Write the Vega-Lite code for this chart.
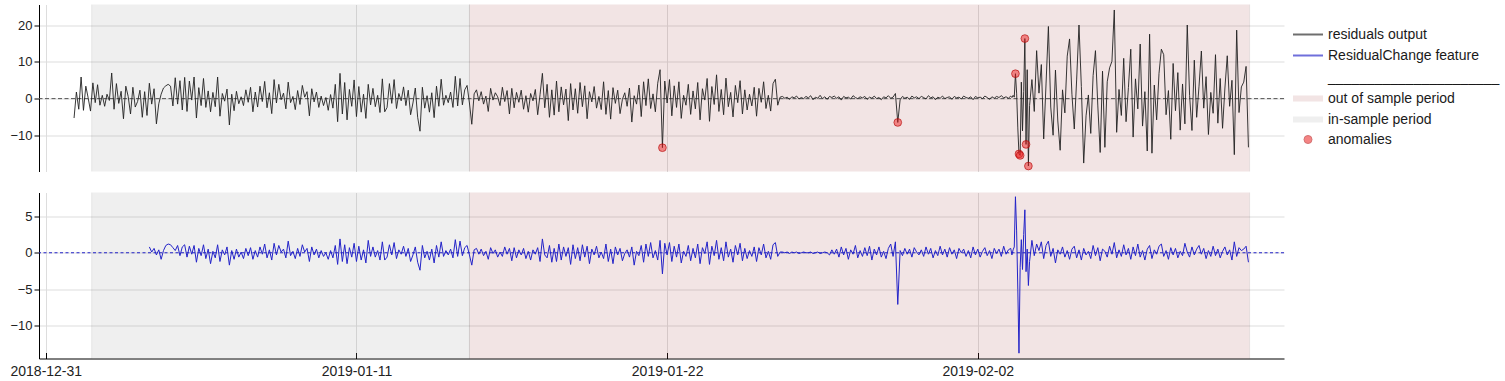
{
  "$schema": "https://vega.github.io/schema/vega-lite/v6.json",
  "padding": {"left": 9, "top": 3.5, "right": 0, "bottom": 5},
  "background": "white",
  "config": {
    "font": "Liberation Sans",
    "view": {"stroke": null},
    "axis": {"labelFont": "Liberation Sans", "labelColor": "#222222", "gridColor": "#dddddd", "gridWidth": 1, "domainColor": "#000000", "tickColor": "#000000", "domainWidth": 1, "tickWidth": 1},
    "legend": {"labelFont": "Liberation Sans", "labelFontSize": 14, "labelColor": "#1a1a1a", "labelLimit": 300, "padding": 0, "rowPadding": 7, "labelOffset": 13}
  },
  "datasets": {
    "periods": [
      {"start": "2019-01-01T15:00", "end": "2019-01-15T00:00", "period": "in-sample period"},
      {"start": "2019-01-15T00:00", "end": "2019-02-11T15:00", "period": "out of sample period"}
    ],
    "anom": [
      {"t": "2019-01-21T20:00", "r": -13.4},
      {"t": "2019-01-30T04:00", "r": -6.5},
      {"t": "2019-02-03T08:00", "r": 6.8},
      {"t": "2019-02-03T11:00", "r": -15.1},
      {"t": "2019-02-03T12:00", "r": -15.5},
      {"t": "2019-02-03T16:00", "r": 16.4},
      {"t": "2019-02-03T17:00", "r": -12.5},
      {"t": "2019-02-03T19:00", "r": -18.4}
    ],
    "main": [
{"t":"2019-01-01T00:00","r":-5.3},{"t":"2019-01-01T02:00","r":1.8},{"t":"2019-01-01T04:00","r":-2.9},{"t":"2019-01-01T06:00","r":5.9},{"t":"2019-01-01T08:00","r":-3.2},{"t":"2019-01-01T10:00","r":3.4},{"t":"2019-01-01T12:00","r":0.2},{"t":"2019-01-01T14:00","r":-3.4},{"t":"2019-01-01T16:00","r":4.3},{"t":"2019-01-01T18:00","r":-1.1},{"t":"2019-01-01T20:00","r":3.8},{"t":"2019-01-01T22:00","r":-1.8},
{"t":"2019-01-02T00:00","r":0.9},{"t":"2019-01-02T02:00","r":-2.1},{"t":"2019-01-02T04:00","r":1.2},{"t":"2019-01-02T06:00","r":-0.5},{"t":"2019-01-02T08:00","r":7.0},{"t":"2019-01-02T10:00","r":-2.9},{"t":"2019-01-02T12:00","r":4.1},{"t":"2019-01-02T14:00","r":-1.3},{"t":"2019-01-02T16:00","r":2.0},{"t":"2019-01-02T18:00","r":-5.5},{"t":"2019-01-02T20:00","r":3.4},{"t":"2019-01-02T22:00","r":0.6},
{"t":"2019-01-03T00:00","r":-4.2},{"t":"2019-01-03T02:00","r":3.1},{"t":"2019-01-03T04:00","r":-2.3},{"t":"2019-01-03T06:00","r":-0.8},{"t":"2019-01-03T08:00","r":2.3},{"t":"2019-01-03T10:00","r":-5.1},{"t":"2019-01-03T12:00","r":1.9},{"t":"2019-01-03T14:00","r":-4.6},{"t":"2019-01-03T16:00","r":4.2,"c":0.8},{"t":"2019-01-03T18:00","r":-1.5,"c":0.1},{"t":"2019-01-03T20:00","r":2.7,"c":0.6},{"t":"2019-01-03T22:00","r":-6.9,"c":-0.3},
{"t":"2019-01-04T00:00","r":-1.4,"c":0.4},{"t":"2019-01-04T02:00","r":1.2,"c":-0.9},{"t":"2019-01-04T04:00","r":2.9,"c":0.3},{"t":"2019-01-04T06:00","r":3.5,"c":1.0},{"t":"2019-01-04T08:00","r":3.9,"c":1.2},{"t":"2019-01-04T10:00","r":3.4,"c":1.1},{"t":"2019-01-04T12:00","r":-2.0,"c":0.7},{"t":"2019-01-04T14:00","r":5.7,"c":0.3},{"t":"2019-01-04T16:00","r":-1.5,"c":1.0},{"t":"2019-01-04T18:00","r":4.9,"c":-0.4},{"t":"2019-01-04T20:00","r":-3.1,"c":0.8},{"t":"2019-01-04T22:00","r":5.8,"c":1.1},
{"t":"2019-01-05T00:00","r":-3.5,"c":-0.6},{"t":"2019-01-05T02:00","r":4.8,"c":0.9},{"t":"2019-01-05T04:00","r":-0.4,"c":-0.2},{"t":"2019-01-05T06:00","r":5.9,"c":1.0},{"t":"2019-01-05T08:00","r":-5.3,"c":-1.3},{"t":"2019-01-05T10:00","r":3.0,"c":0.6},{"t":"2019-01-05T12:00","r":-1.9,"c":-0.4},{"t":"2019-01-05T14:00","r":5.5,"c":1.1},{"t":"2019-01-05T16:00","r":-2.4,"c":-0.8},{"t":"2019-01-05T18:00","r":2.1,"c":0.5},{"t":"2019-01-05T20:00","r":-3.6,"c":-1.5},{"t":"2019-01-05T22:00","r":1.7,"c":0.2},
{"t":"2019-01-06T00:00","r":-2.2,"c":-0.7},{"t":"2019-01-06T02:00","r":5.9,"c":1.1},{"t":"2019-01-06T04:00","r":-4.8,"c":-1.2},{"t":"2019-01-06T06:00","r":1.4,"c":0.4},{"t":"2019-01-06T08:00","r":-0.7,"c":-0.3},{"t":"2019-01-06T10:00","r":2.6,"c":0.8},{"t":"2019-01-06T12:00","r":-7.2,"c":-1.7},{"t":"2019-01-06T14:00","r":1.2,"c":0.3},{"t":"2019-01-06T16:00","r":-3.3,"c":-0.9},{"t":"2019-01-06T18:00","r":2.0,"c":0.5},{"t":"2019-01-06T20:00","r":-1.4,"c":-0.6},{"t":"2019-01-06T22:00","r":0.5,"c":0.1},
{"t":"2019-01-07T00:00","r":-1.9,"c":-0.8},{"t":"2019-01-07T02:00","r":2.4,"c":0.6},{"t":"2019-01-07T04:00","r":-1.0,"c":-0.4},{"t":"2019-01-07T06:00","r":3.1,"c":0.7},{"t":"2019-01-07T08:00","r":-3.6,"c":-0.9},{"t":"2019-01-07T10:00","r":1.8,"c":0.3},{"t":"2019-01-07T12:00","r":-2.3,"c":-0.6},{"t":"2019-01-07T14:00","r":3.4,"c":0.8},{"t":"2019-01-07T16:00","r":-0.8,"c":-0.2},{"t":"2019-01-07T18:00","r":4.7,"c":1.2},{"t":"2019-01-07T20:00","r":-2.5,"c":-0.7},{"t":"2019-01-07T22:00","r":1.6,"c":0.4},
{"t":"2019-01-08T00:00","r":-4.1,"c":-1.0},{"t":"2019-01-08T02:00","r":5.2,"c":1.3},{"t":"2019-01-08T04:00","r":-1.2,"c":-0.3},{"t":"2019-01-08T06:00","r":3.9,"c":1.0},{"t":"2019-01-08T08:00","r":-0.3,"c":0.1},{"t":"2019-01-08T10:00","r":1.5,"c":0.5},{"t":"2019-01-08T12:00","r":-2.8,"c":-0.7},{"t":"2019-01-08T14:00","r":4.5,"c":1.6},{"t":"2019-01-08T16:00","r":-1.1,"c":-0.4},{"t":"2019-01-08T18:00","r":0.6,"c":0.2},{"t":"2019-01-08T20:00","r":-3.0,"c":-0.8},{"t":"2019-01-08T22:00","r":2.2,"c":0.6},
{"t":"2019-01-09T00:00","r":-1.6,"c":-0.5},{"t":"2019-01-09T02:00","r":3.6,"c":1.1},{"t":"2019-01-09T04:00","r":0.4,"c":0.1},{"t":"2019-01-09T06:00","r":1.9,"c":0.6},{"t":"2019-01-09T08:00","r":-4.7,"c":-1.2},{"t":"2019-01-09T10:00","r":2.7,"c":0.8},{"t":"2019-01-09T12:00","r":-0.9,"c":-0.3},{"t":"2019-01-09T14:00","r":1.8,"c":0.5},{"t":"2019-01-09T16:00","r":-2.4,"c":-0.7},{"t":"2019-01-09T18:00","r":0.7,"c":0.3},{"t":"2019-01-09T20:00","r":-1.9,"c":-0.5},{"t":"2019-01-09T22:00","r":0.3,"c":0.0},
{"t":"2019-01-10T00:00","r":-3.2,"c":-0.9},{"t":"2019-01-10T02:00","r":1.1,"c":0.3},{"t":"2019-01-10T04:00","r":-2.6,"c":-0.7},{"t":"2019-01-10T06:00","r":3.9,"c":1.0},{"t":"2019-01-10T08:00","r":-6.3,"c":-1.6},{"t":"2019-01-10T10:00","r":6.9,"c":1.9},{"t":"2019-01-10T12:00","r":-4.2,"c":-1.2},{"t":"2019-01-10T14:00","r":4.4,"c":1.1},{"t":"2019-01-10T16:00","r":-5.8,"c":-1.5},{"t":"2019-01-10T18:00","r":2.5,"c":0.7},{"t":"2019-01-10T20:00","r":-2.1,"c":-0.6},{"t":"2019-01-10T22:00","r":5.1,"c":1.3},
{"t":"2019-01-11T00:00","r":-4.9,"c":-1.2},{"t":"2019-01-11T02:00","r":3.3,"c":0.9},{"t":"2019-01-11T04:00","r":-3.7,"c":-1.0},{"t":"2019-01-11T06:00","r":1.2,"c":0.4},{"t":"2019-01-11T08:00","r":-5.4,"c":-1.4},{"t":"2019-01-11T10:00","r":3.9,"c":1.7},{"t":"2019-01-11T12:00","r":-1.7,"c":-0.5},{"t":"2019-01-11T14:00","r":2.8,"c":0.8},{"t":"2019-01-11T16:00","r":-2.2,"c":-0.6},{"t":"2019-01-11T18:00","r":0.9,"c":0.3},{"t":"2019-01-11T20:00","r":-3.8,"c":-1.0},{"t":"2019-01-11T22:00","r":5.4,"c":1.5},
{"t":"2019-01-12T00:00","r":-3.6,"c":-1.0},{"t":"2019-01-12T02:00","r":-2.4,"c":-0.6},{"t":"2019-01-12T04:00","r":4.1,"c":1.1},{"t":"2019-01-12T06:00","r":-1.3,"c":-0.3},{"t":"2019-01-12T08:00","r":5.2,"c":1.4},{"t":"2019-01-12T10:00","r":-2.7,"c":-0.8},{"t":"2019-01-12T12:00","r":1.4,"c":0.4},{"t":"2019-01-12T14:00","r":-0.6,"c":-0.2},{"t":"2019-01-12T16:00","r":3.2,"c":0.9},{"t":"2019-01-12T18:00","r":-1.9,"c":-0.5},{"t":"2019-01-12T20:00","r":2.3,"c":0.6},{"t":"2019-01-12T22:00","r":-4.4,"c":-1.2},
{"t":"2019-01-13T00:00","r":-1.2,"c":-0.3},{"t":"2019-01-13T02:00","r":2.9,"c":0.8},{"t":"2019-01-13T04:00","r":-5.1,"c":-1.3},{"t":"2019-01-13T06:00","r":-8.9,"c":-2.4},{"t":"2019-01-13T08:00","r":3.1,"c":1.0},{"t":"2019-01-13T10:00","r":-2.6,"c":-0.7},{"t":"2019-01-13T12:00","r":0.8,"c":0.2},{"t":"2019-01-13T14:00","r":-3.7,"c":-1.0},{"t":"2019-01-13T16:00","r":1.6,"c":0.5},{"t":"2019-01-13T18:00","r":-5.2,"c":-1.4},{"t":"2019-01-13T20:00","r":3.4,"c":1.0},{"t":"2019-01-13T22:00","r":-2.1,"c":-0.6},
{"t":"2019-01-14T00:00","r":5.3,"c":1.5},{"t":"2019-01-14T02:00","r":-1.8,"c":-0.5},{"t":"2019-01-14T04:00","r":0.9,"c":0.3},{"t":"2019-01-14T06:00","r":-1.1,"c":-0.3},{"t":"2019-01-14T08:00","r":1.8,"c":0.5},{"t":"2019-01-14T10:00","r":-2.4,"c":-0.7},{"t":"2019-01-14T12:00","r":6.1,"c":1.8},{"t":"2019-01-14T14:00","r":-2.0,"c":-0.5},{"t":"2019-01-14T16:00","r":5.5,"c":1.6},{"t":"2019-01-14T18:00","r":-1.7,"c":-0.4},{"t":"2019-01-14T20:00","r":2.4,"c":0.7},{"t":"2019-01-14T22:00","r":3.6,"c":1.0},
{"t":"2019-01-15T00:00","r":-1.2,"c":-0.3},{"t":"2019-01-15T02:00","r":-7.0,"c":-1.7},{"t":"2019-01-15T04:00","r":1.3,"c":0.4},{"t":"2019-01-15T06:00","r":2.4,"c":0.6},{"t":"2019-01-15T08:00","r":-0.6,"c":-0.2},{"t":"2019-01-15T10:00","r":1.9,"c":0.5},{"t":"2019-01-15T12:00","r":-1.5,"c":-0.4},{"t":"2019-01-15T14:00","r":0.7,"c":0.2},{"t":"2019-01-15T16:00","r":-3.5,"c":-0.9},{"t":"2019-01-15T18:00","r":2.8,"c":0.7},{"t":"2019-01-15T20:00","r":-0.4,"c":-0.1},{"t":"2019-01-15T22:00","r":1.6,"c":0.4},
{"t":"2019-01-16T00:00","r":0.5,"c":-0.6},{"t":"2019-01-16T02:00","r":-1.9,"c":0.1},{"t":"2019-01-16T04:00","r":3.1,"c":-0.5},{"t":"2019-01-16T06:00","r":-0.8,"c":0.8},{"t":"2019-01-16T08:00","r":2.2,"c":-0.2},{"t":"2019-01-16T10:00","r":-4.2,"c":0.6},{"t":"2019-01-16T12:00","r":2.8,"c":-1.1},{"t":"2019-01-16T14:00","r":-2.5,"c":0.7},{"t":"2019-01-16T16:00","r":1.7,"c":-0.7},{"t":"2019-01-16T18:00","r":-1.0,"c":0.4},{"t":"2019-01-16T20:00","r":2.3,"c":-0.3},{"t":"2019-01-16T22:00","r":-2.9,"c":0.6},
{"t":"2019-01-17T00:00","r":0.8,"c":-0.8},{"t":"2019-01-17T02:00","r":-3.7,"c":0.2},{"t":"2019-01-17T04:00","r":1.4,"c":-1.0},{"t":"2019-01-17T06:00","r":-0.6,"c":0.4},{"t":"2019-01-17T08:00","r":2.5,"c":-0.2},{"t":"2019-01-17T10:00","r":-4.4,"c":0.7},{"t":"2019-01-17T12:00","r":1.1,"c":-1.2},{"t":"2019-01-17T14:00","r":6.9,"c":1.9},{"t":"2019-01-17T16:00","r":-2.5,"c":-0.3},{"t":"2019-01-17T18:00","r":3.9,"c":-0.7},{"t":"2019-01-17T20:00","r":-5.1,"c":1.0},{"t":"2019-01-17T22:00","r":2.4,"c":-1.3},
{"t":"2019-01-18T00:00","r":-4.5,"c":0.6},{"t":"2019-01-18T02:00","r":4.8,"c":-1.2},{"t":"2019-01-18T04:00","r":-3.6,"c":1.2},{"t":"2019-01-18T06:00","r":3.2,"c":-1.0},{"t":"2019-01-18T08:00","r":-1.7,"c":0.8},{"t":"2019-01-18T10:00","r":2.6,"c":-0.5},{"t":"2019-01-18T12:00","r":-6.0,"c":0.7},{"t":"2019-01-18T14:00","r":4.1,"c":-1.6},{"t":"2019-01-18T16:00","r":-3.1,"c":1.1},{"t":"2019-01-18T18:00","r":2.7,"c":-0.8},{"t":"2019-01-18T20:00","r":-4.0,"c":0.7},{"t":"2019-01-18T22:00","r":4.4,"c":-1.1},
{"t":"2019-01-19T00:00","r":-2.2,"c":1.1},{"t":"2019-01-19T02:00","r":3.5,"c":-0.6},{"t":"2019-01-19T04:00","r":-5.5,"c":0.9},{"t":"2019-01-19T06:00","r":1.9,"c":-1.5},{"t":"2019-01-19T08:00","r":-0.9,"c":0.5},{"t":"2019-01-19T10:00","r":3.3,"c":-0.3},{"t":"2019-01-19T12:00","r":-2.6,"c":0.9},{"t":"2019-01-19T14:00","r":0.6,"c":-0.7},{"t":"2019-01-19T16:00","r":-3.0,"c":0.1},{"t":"2019-01-19T18:00","r":4.6,"c":-0.8},{"t":"2019-01-19T20:00","r":-4.3,"c":1.2},{"t":"2019-01-19T22:00","r":2.2,"c":-1.2},
{"t":"2019-01-20T00:00","r":-5.6,"c":0.5},{"t":"2019-01-20T02:00","r":3.0,"c":-1.5},{"t":"2019-01-20T04:00","r":-1.3,"c":0.8},{"t":"2019-01-20T06:00","r":2.3,"c":-0.3},{"t":"2019-01-20T08:00","r":-4.1,"c":0.6},{"t":"2019-01-20T10:00","r":-0.2,"c":-1.1},{"t":"2019-01-20T12:00","r":1.6,"c":-0.1},{"t":"2019-01-20T14:00","r":-2.1,"c":0.4},{"t":"2019-01-20T16:00","r":2.9,"c":-0.6},{"t":"2019-01-20T18:00","r":-6.4,"c":0.8},{"t":"2019-01-20T20:00","r":0.8,"c":-1.7},{"t":"2019-01-20T22:00","r":-1.5,"c":0.2},
{"t":"2019-01-21T00:00","r":3.7,"c":-0.4},{"t":"2019-01-21T02:00","r":-4.9,"c":1.0},{"t":"2019-01-21T04:00","r":4.6,"c":-1.3},{"t":"2019-01-21T06:00","r":-1.9,"c":1.2},{"t":"2019-01-21T08:00","r":5.4,"c":-0.5},{"t":"2019-01-21T10:00","r":-2.7,"c":1.4},{"t":"2019-01-21T12:00","r":1.3,"c":-0.7},{"t":"2019-01-21T14:00","r":-3.6,"c":0.3},{"t":"2019-01-21T16:00","r":4.2,"c":-1.0},{"t":"2019-01-21T18:00","r":7.9,"c":1.7},{"t":"2019-01-21T20:00","r":-13.4,"c":-2.9},{"t":"2019-01-21T22:00","r":4.8,"c":1.3},
{"t":"2019-01-22T00:00","r":-1.2,"c":-0.3},{"t":"2019-01-22T02:00","r":5.2,"c":1.4},{"t":"2019-01-22T04:00","r":-4.7,"c":-1.2},{"t":"2019-01-22T06:00","r":3.5,"c":0.9},{"t":"2019-01-22T08:00","r":-2.4,"c":-0.6},{"t":"2019-01-22T10:00","r":4.6,"c":1.2},{"t":"2019-01-22T12:00","r":-5.4,"c":-1.4},{"t":"2019-01-22T14:00","r":0.9,"c":0.2},{"t":"2019-01-22T16:00","r":-1.8,"c":-0.5},{"t":"2019-01-22T18:00","r":3.9,"c":1.0},{"t":"2019-01-22T20:00","r":-4.3,"c":-1.1},{"t":"2019-01-22T22:00","r":2.1,"c":0.6},
{"t":"2019-01-23T00:00","r":-2.8,"c":-0.7},{"t":"2019-01-23T02:00","r":4.4,"c":1.2},{"t":"2019-01-23T04:00","r":-5.8,"c":-1.5},{"t":"2019-01-23T06:00","r":2.7,"c":0.7},{"t":"2019-01-23T08:00","r":-0.4,"c":-0.1},{"t":"2019-01-23T10:00","r":5.5,"c":1.5},{"t":"2019-01-23T12:00","r":-6.2,"c":-1.6},{"t":"2019-01-23T14:00","r":3.3,"c":0.9},{"t":"2019-01-23T16:00","r":-1.6,"c":-0.4},{"t":"2019-01-23T18:00","r":6.5,"c":1.7},{"t":"2019-01-23T20:00","r":-3.5,"c":-0.9},{"t":"2019-01-23T22:00","r":2.5,"c":0.7},
{"t":"2019-01-24T00:00","r":-4.4,"c":-1.1},{"t":"2019-01-24T02:00","r":5.6,"c":1.5},{"t":"2019-01-24T04:00","r":-2.2,"c":-0.6},{"t":"2019-01-24T06:00","r":1.7,"c":0.5},{"t":"2019-01-24T08:00","r":-5.0,"c":-1.3},{"t":"2019-01-24T10:00","r":3.6,"c":1.0},{"t":"2019-01-24T12:00","r":-1.1,"c":-0.3},{"t":"2019-01-24T14:00","r":4.9,"c":1.3},{"t":"2019-01-24T16:00","r":-4.2,"c":-1.1},{"t":"2019-01-24T18:00","r":2.4,"c":0.6},{"t":"2019-01-24T20:00","r":-3.1,"c":-0.8},{"t":"2019-01-24T22:00","r":1.2,"c":0.3},
{"t":"2019-01-25T00:00","r":-2.0,"c":-0.5},{"t":"2019-01-25T02:00","r":3.1,"c":0.8},{"t":"2019-01-25T04:00","r":-4.8,"c":-1.2},{"t":"2019-01-25T06:00","r":2.8,"c":0.7},{"t":"2019-01-25T08:00","r":-1.0,"c":-0.3},{"t":"2019-01-25T10:00","r":4.6,"c":1.2},{"t":"2019-01-25T12:00","r":-2.7,"c":-0.7},{"t":"2019-01-25T14:00","r":0.9,"c":0.2},{"t":"2019-01-25T16:00","r":-3.4,"c":-0.9},{"t":"2019-01-25T18:00","r":4.1,"c":1.1},{"t":"2019-01-25T20:00","r":5.3,"c":1.4},{"t":"2019-01-25T22:00","r":-1.8,"c":-0.5},
{"t":"2019-01-26T00:00","r":0.4,"c":0.1},{"t":"2019-01-26T02:00","r":0.6,"c":0.1},{"t":"2019-01-26T04:00","r":0.1,"c":0.0},{"t":"2019-01-26T06:00","r":0.4,"c":0.1},{"t":"2019-01-26T08:00","r":-0.2,"c":-0.1},{"t":"2019-01-26T10:00","r":0.5,"c":0.1},{"t":"2019-01-26T12:00","r":0.2,"c":0.0},{"t":"2019-01-26T14:00","r":0.7,"c":0.1},{"t":"2019-01-26T16:00","r":-0.1,"c":-0.1},{"t":"2019-01-26T18:00","r":0.3,"c":0.0},{"t":"2019-01-26T20:00","r":0.0,"c":0.1},{"t":"2019-01-26T22:00","r":0.6,"c":0.0},
{"t":"2019-01-27T00:00","r":0.2,"c":0.0},{"t":"2019-01-27T02:00","r":0.8,"c":0.1},{"t":"2019-01-27T04:00","r":-0.3,"c":-0.1},{"t":"2019-01-27T06:00","r":0.4,"c":0.0},{"t":"2019-01-27T08:00","r":0.1,"c":0.1},{"t":"2019-01-27T10:00","r":0.9,"c":-0.1},{"t":"2019-01-27T12:00","r":0.0,"c":0.0},{"t":"2019-01-27T14:00","r":0.5,"c":0.1},{"t":"2019-01-27T16:00","r":-0.2,"c":0.0},{"t":"2019-01-27T18:00","r":0.6,"c":-0.3},{"t":"2019-01-27T20:00","r":0.3,"c":0.4},{"t":"2019-01-27T22:00","r":0.7,"c":-0.2},
{"t":"2019-01-28T00:00","r":0.1,"c":0.5},{"t":"2019-01-28T02:00","r":0.5,"c":-0.6},{"t":"2019-01-28T04:00","r":-0.4,"c":0.8},{"t":"2019-01-28T06:00","r":0.6,"c":-0.3},{"t":"2019-01-28T08:00","r":0.2,"c":0.6},{"t":"2019-01-28T10:00","r":0.4,"c":-0.9},{"t":"2019-01-28T12:00","r":-0.1,"c":0.4},{"t":"2019-01-28T14:00","r":0.8,"c":-0.2},{"t":"2019-01-28T16:00","r":0.3,"c":1.0},{"t":"2019-01-28T18:00","r":0.0,"c":-0.7},{"t":"2019-01-28T20:00","r":0.5,"c":0.3},{"t":"2019-01-28T22:00","r":0.2,"c":-0.5},
{"t":"2019-01-29T00:00","r":0.6,"c":0.7},{"t":"2019-01-29T02:00","r":-0.2,"c":-0.4},{"t":"2019-01-29T04:00","r":0.4,"c":0.9},{"t":"2019-01-29T06:00","r":0.1,"c":-1.0},{"t":"2019-01-29T08:00","r":0.7,"c":0.5},{"t":"2019-01-29T10:00","r":0.0,"c":-0.3},{"t":"2019-01-29T12:00","r":0.3,"c":0.8},{"t":"2019-01-29T14:00","r":-0.3,"c":-0.6},{"t":"2019-01-29T16:00","r":0.5,"c":0.2},{"t":"2019-01-29T18:00","r":0.2,"c":-0.8},{"t":"2019-01-29T20:00","r":0.8,"c":0.6},{"t":"2019-01-29T22:00","r":0.1,"c":1.2},
{"t":"2019-01-30T00:00","r":0.4,"c":-0.5},{"t":"2019-01-30T02:00","r":1.4,"c":1.5},{"t":"2019-01-30T04:00","r":-6.5,"c":-7.1},{"t":"2019-01-30T06:00","r":-0.3,"c":0.3},{"t":"2019-01-30T08:00","r":0.6,"c":-0.4},{"t":"2019-01-30T10:00","r":0.1,"c":0.6},{"t":"2019-01-30T12:00","r":0.4,"c":-0.2},{"t":"2019-01-30T14:00","r":-0.2,"c":0.5},{"t":"2019-01-30T16:00","r":0.7,"c":-0.6},{"t":"2019-01-30T18:00","r":0.2,"c":0.7},{"t":"2019-01-30T20:00","r":0.5,"c":0.1},{"t":"2019-01-30T22:00","r":0.0,"c":-0.3},
{"t":"2019-01-31T00:00","r":0.6,"c":0.4},{"t":"2019-01-31T02:00","r":0.3,"c":-0.5},{"t":"2019-01-31T04:00","r":-0.1,"c":0.8},{"t":"2019-01-31T06:00","r":0.8,"c":-0.2},{"t":"2019-01-31T08:00","r":0.2,"c":0.6},{"t":"2019-01-31T10:00","r":0.5,"c":-0.7},{"t":"2019-01-31T12:00","r":-0.3,"c":0.3},{"t":"2019-01-31T14:00","r":0.4,"c":-0.4},{"t":"2019-01-31T16:00","r":0.1,"c":0.9},{"t":"2019-01-31T18:00","r":0.7,"c":-0.3},{"t":"2019-01-31T20:00","r":0.0,"c":0.5},{"t":"2019-01-31T22:00","r":0.3,"c":-0.6},
{"t":"2019-02-01T00:00","r":0.5,"c":0.7},{"t":"2019-02-01T02:00","r":-0.2,"c":-0.2},{"t":"2019-02-01T04:00","r":0.6,"c":0.4},{"t":"2019-02-01T06:00","r":0.2,"c":-0.8},{"t":"2019-02-01T08:00","r":0.4,"c":0.6},{"t":"2019-02-01T10:00","r":-0.1,"c":0.0},{"t":"2019-02-01T12:00","r":0.7,"c":0.5},{"t":"2019-02-01T14:00","r":0.3,"c":-0.5},{"t":"2019-02-01T16:00","r":0.1,"c":0.3},{"t":"2019-02-01T18:00","r":0.5,"c":-0.7},{"t":"2019-02-01T20:00","r":-0.3,"c":0.8},{"t":"2019-02-01T22:00","r":0.6,"c":-0.3},
{"t":"2019-02-02T00:00","r":0.2,"c":0.5},{"t":"2019-02-02T02:00","r":0.4,"c":-0.6},{"t":"2019-02-02T04:00","r":0.0,"c":0.2},{"t":"2019-02-02T06:00","r":0.7,"c":0.7},{"t":"2019-02-02T08:00","r":0.3,"c":-0.4},{"t":"2019-02-02T10:00","r":-0.2,"c":0.3},{"t":"2019-02-02T12:00","r":0.5,"c":-0.8},{"t":"2019-02-02T14:00","r":0.1,"c":0.6},{"t":"2019-02-02T16:00","r":0.6,"c":-0.1},{"t":"2019-02-02T18:00","r":0.3,"c":0.5},{"t":"2019-02-02T20:00","r":0.8,"c":-0.5},{"t":"2019-02-02T22:00","r":0.2,"c":0.9},
{"t":"2019-02-03T00:00","r":0.5,"c":-0.2},{"t":"2019-02-03T02:00","r":0.1,"c":0.4},{"t":"2019-02-03T04:00","r":0.7,"c":0.6},{"t":"2019-02-03T05:00","r":0.3,"c":-0.3},{"t":"2019-02-03T06:00","r":0.9,"c":0.4},{"t":"2019-02-03T07:00","r":0.4,"c":0.8},{"t":"2019-02-03T08:00","r":6.8,"c":7.7},{"t":"2019-02-03T09:00","r":1.5,"c":3.0},{"t":"2019-02-03T10:00","r":-8.0,"c":-5.0},{"t":"2019-02-03T11:00","r":-15.1,"c":-13.8},{"t":"2019-02-03T12:00","r":-15.5,"c":-2.0},{"t":"2019-02-03T13:00","r":4.5,"c":1.8},{"t":"2019-02-03T14:00","r":-8.8,"c":-2.3},{"t":"2019-02-03T15:00","r":2.0,"c":2.5},{"t":"2019-02-03T16:00","r":16.4,"c":5.9},{"t":"2019-02-03T17:00","r":-12.5,"c":-2.6},{"t":"2019-02-03T18:00","r":7.9,"c":0.5},{"t":"2019-02-03T19:00","r":-18.4,"c":-4.5},{"t":"2019-02-03T20:00","r":-1.9,"c":-1.2},{"t":"2019-02-03T22:00","r":5.2,"c":1.7},
{"t":"2019-02-04T00:00","r":-3.5,"c":-0.4},{"t":"2019-02-04T02:00","r":13.1,"c":1.2},{"t":"2019-02-04T04:00","r":1.5,"c":0.3},{"t":"2019-02-04T06:00","r":9.3,"c":1.5},{"t":"2019-02-04T08:00","r":-11.0,"c":-0.8},{"t":"2019-02-04T10:00","r":4.0,"c":1.0},{"t":"2019-02-04T12:00","r":19.7,"c":1.6},{"t":"2019-02-04T14:00","r":-2.3,"c":-0.5},{"t":"2019-02-04T16:00","r":-10.0,"c":0.6},{"t":"2019-02-04T18:00","r":7.8,"c":-1.4},{"t":"2019-02-04T20:00","r":-6.1,"c":0.4},{"t":"2019-02-04T22:00","r":-14.1,"c":-0.2},
{"t":"2019-02-05T00:00","r":2.4,"c":0.8},{"t":"2019-02-05T02:00","r":-3.9,"c":-0.6},{"t":"2019-02-05T04:00","r":11.6,"c":0.3},{"t":"2019-02-05T06:00","r":16.3,"c":-0.9},{"t":"2019-02-05T08:00","r":1.2,"c":0.5},{"t":"2019-02-05T10:00","r":-8.3,"c":0.9},{"t":"2019-02-05T12:00","r":5.1,"c":-0.7},{"t":"2019-02-05T14:00","r":20.1,"c":0.4},{"t":"2019-02-05T16:00","r":3.3,"c":-1.0},{"t":"2019-02-05T18:00","r":-17.6,"c":0.6},{"t":"2019-02-05T20:00","r":-4.7,"c":-0.3},{"t":"2019-02-05T22:00","r":1.0,"c":0.2},
{"t":"2019-02-06T00:00","r":-9.5,"c":-0.8},{"t":"2019-02-06T02:00","r":6.3,"c":1.0},{"t":"2019-02-06T04:00","r":13.1,"c":-0.4},{"t":"2019-02-06T06:00","r":-2.0,"c":0.7},{"t":"2019-02-06T08:00","r":-14.7,"c":-1.1},{"t":"2019-02-06T10:00","r":7.5,"c":0.5},{"t":"2019-02-06T12:00","r":-13.3,"c":0.2},{"t":"2019-02-06T14:00","r":4.6,"c":-0.6},{"t":"2019-02-06T16:00","r":8.4,"c":0.9},{"t":"2019-02-06T18:00","r":10.2,"c":-0.2},{"t":"2019-02-06T20:00","r":24.2,"c":1.4},{"t":"2019-02-06T22:00","r":-9.2,"c":-0.7},
{"t":"2019-02-07T00:00","r":2.5,"c":0.4},{"t":"2019-02-07T02:00","r":-4.6,"c":-0.5},{"t":"2019-02-07T04:00","r":11.0,"c":1.1},{"t":"2019-02-07T06:00","r":-6.3,"c":-0.3},{"t":"2019-02-07T08:00","r":3.0,"c":0.6},{"t":"2019-02-07T10:00","r":13.5,"c":-0.9},{"t":"2019-02-07T12:00","r":-10.5,"c":0.8},{"t":"2019-02-07T14:00","r":5.4,"c":-0.4},{"t":"2019-02-07T16:00","r":-2.8,"c":1.2},{"t":"2019-02-07T18:00","r":14.9,"c":-0.6},{"t":"2019-02-07T20:00","r":-7.5,"c":0.3},{"t":"2019-02-07T22:00","r":1.9,"c":-1.0},
{"t":"2019-02-08T00:00","r":-14.3,"c":0.5},{"t":"2019-02-08T02:00","r":17.6,"c":1.0},{"t":"2019-02-08T04:00","r":-14.9,"c":-0.8},{"t":"2019-02-08T06:00","r":3.7,"c":0.4},{"t":"2019-02-08T08:00","r":-5.8,"c":-0.2},{"t":"2019-02-08T10:00","r":6.9,"c":0.9},{"t":"2019-02-08T12:00","r":13.5,"c":1.2},{"t":"2019-02-08T14:00","r":12.0,"c":-0.5},{"t":"2019-02-08T16:00","r":-4.4,"c":0.3},{"t":"2019-02-08T18:00","r":2.2,"c":-0.9},{"t":"2019-02-08T20:00","r":-11.1,"c":0.7},{"t":"2019-02-08T22:00","r":9.6,"c":-0.3},
{"t":"2019-02-09T00:00","r":-3.3,"c":0.6},{"t":"2019-02-09T02:00","r":7.1,"c":-0.7},{"t":"2019-02-09T04:00","r":-8.6,"c":0.2},{"t":"2019-02-09T06:00","r":4.0,"c":-0.4},{"t":"2019-02-09T08:00","r":-6.9,"c":1.3},{"t":"2019-02-09T10:00","r":20.1,"c":0.1},{"t":"2019-02-09T12:00","r":0.8,"c":-0.6},{"t":"2019-02-09T14:00","r":-8.7,"c":0.8},{"t":"2019-02-09T16:00","r":10.5,"c":-0.3},{"t":"2019-02-09T18:00","r":-5.1,"c":0.5},{"t":"2019-02-09T20:00","r":3.4,"c":1.0},{"t":"2019-02-09T22:00","r":13.0,"c":-0.2},
{"t":"2019-02-10T00:00","r":-2.6,"c":0.6},{"t":"2019-02-10T02:00","r":6.0,"c":-0.8},{"t":"2019-02-10T04:00","r":-9.8,"c":0.3},{"t":"2019-02-10T06:00","r":1.7,"c":-0.5},{"t":"2019-02-10T08:00","r":-4.0,"c":0.9},{"t":"2019-02-10T10:00","r":12.0,"c":-0.4},{"t":"2019-02-10T12:00","r":-6.7,"c":0.5},{"t":"2019-02-10T14:00","r":5.5,"c":-0.7},{"t":"2019-02-10T16:00","r":-8.1,"c":0.2},{"t":"2019-02-10T18:00","r":2.9,"c":0.8},{"t":"2019-02-10T20:00","r":11.7,"c":-0.3},{"t":"2019-02-10T22:00","r":-2.1,"c":0.4},
{"t":"2019-02-11T00:00","r":5.0,"c":-1.0},{"t":"2019-02-11T02:00","r":-15.3,"c":1.5},{"t":"2019-02-11T04:00","r":18.7,"c":-0.5},{"t":"2019-02-11T06:00","r":-3.8,"c":0.7},{"t":"2019-02-11T08:00","r":3.2,"c":0.3},{"t":"2019-02-11T10:00","r":4.5,"c":0.5},{"t":"2019-02-11T12:00","r":8.8,"c":0.9},{"t":"2019-02-11T14:00","r":-13.3,"c":-1.3}
    ]
  },
  "spacing": 19,
  "vconcat": [
    {
      "width": 1245,
      "height": 167,
      "layer": [
        {
          "data": {"name": "periods"},
          "mark": {"type": "rect", "opacity": 0.15},
          "encoding": {
            "x": {"field": "start", "type": "temporal",
                  "scale": {"domain": [{"year": 2018, "month": 12, "date": 30, "hours": 18, "minutes": 13}, {"year": 2019, "month": 2, "date": 12, "hours": 20, "minutes": 13}]},
                  "axis": {"title": null, "values": [{"year": 2018, "month": 12, "date": 31}, {"year": 2019, "month": 1, "date": 11}, {"year": 2019, "month": 1, "date": 22}, {"year": 2019, "month": 2, "date": 2}], "labels": false, "ticks": false, "domain": false, "grid": true}},
            "x2": {"field": "end"},
            "fill": {
              "field": "period", "type": "nominal",
              "scale": {"domain": ["______________________", "out of sample period", "in-sample period"], "range": ["rgba(0,0,0,0)", "#a84b4b", "#949494"]},
              "legend": {"title": null, "orient": "none", "legendX": 1262, "legendY": 66, "symbolType": "M-3,-0.6H3V0.6H-3Z", "symbolSize": 100, "symbolStrokeWidth": 0}
            }
          }
        },
        {
          "data": {"name": "periods"},
          "mark": {"type": "rule", "color": "#000000", "opacity": 0.07, "strokeWidth": 1},
          "encoding": {"x": {"field": "start", "type": "temporal"}}
        },
        {
          "data": {"name": "periods"},
          "mark": {"type": "rule", "color": "#000000", "opacity": 0.07, "strokeWidth": 1},
          "encoding": {"x": {"field": "end", "type": "temporal"}}
        },
        {
          "data": {"values": [{}]},
          "mark": {"type": "rule", "strokeDash": [4, 2.5], "color": "#555555", "strokeWidth": 1},
          "encoding": {"y": {"datum": 0, "type": "quantitative"}}
        },
        {
          "data": {"name": "main"},
          "mark": {"type": "line", "strokeWidth": 1, "opacity": 0.9},
          "encoding": {
            "x": {"field": "t", "type": "temporal"},
            "y": {"field": "r", "type": "quantitative",
                  "scale": {"domain": [-19.9, 25.7], "nice": false, "zero": false},
                  "axis": {"title": null, "values": [-10, 0, 10, 20], "labelFontSize": 13, "tickSize": 5, "labelPadding": 2, "grid": true}},
            "stroke": {"datum": "residuals output", "type": "nominal",
              "scale": {"domain": ["residuals output", "ResidualChange feature"], "range": ["#222222", "#2323c8"]},
              "legend": {"title": null, "orient": "none", "legendX": 1262, "legendY": 23, "symbolType": "M-3,0H3", "symbolSize": 100, "symbolStrokeWidth": 2, "symbolOpacity": 0.65}}
          }
        },
        {
          "data": {"name": "anom"},
          "mark": {"type": "point", "filled": true, "size": 60, "fill": "#ee2020", "fillOpacity": 0.5, "stroke": "#b00000", "strokeOpacity": 0.6, "strokeWidth": 1},
          "encoding": {
            "x": {"field": "t", "type": "temporal"},
            "y": {"field": "r", "type": "quantitative"},
            "shape": {"datum": "anomalies", "type": "nominal",
              "scale": {"domain": ["anomalies"], "range": ["circle"]},
              "legend": {"title": null, "orient": "none", "legendX": 1262, "legendY": 128, "symbolSize": 64, "symbolStrokeWidth": 1, "symbolOpacity": 0.55}}
          }
        }
      ]
    },
    {
      "width": 1245,
      "height": 166,
      "layer": [
        {
          "data": {"name": "periods"},
          "mark": {"type": "rect", "opacity": 0.15},
          "encoding": {
            "x": {"field": "start", "type": "temporal",
                  "scale": {"domain": [{"year": 2018, "month": 12, "date": 30, "hours": 18, "minutes": 13}, {"year": 2019, "month": 2, "date": 12, "hours": 20, "minutes": 13}]},
                  "axis": {"title": null, "values": [{"year": 2018, "month": 12, "date": 31}, {"year": 2019, "month": 1, "date": 11}, {"year": 2019, "month": 1, "date": 22}, {"year": 2019, "month": 2, "date": 2}], "format": "%Y-%m-%d", "labelFontSize": 14, "labelFlush": false, "labelOverlap": false, "tickSize": -6, "labelPadding": 12, "grid": true, "labelAngle": 0}},
            "x2": {"field": "end"},
            "fill": {"field": "period", "type": "nominal",
              "scale": {"domain": ["______________________", "out of sample period", "in-sample period"], "range": ["rgba(0,0,0,0)", "#a84b4b", "#949494"]}}
          }
        },
        {
          "data": {"name": "periods"},
          "mark": {"type": "rule", "color": "#000000", "opacity": 0.07, "strokeWidth": 1},
          "encoding": {"x": {"field": "start", "type": "temporal"}}
        },
        {
          "data": {"name": "periods"},
          "mark": {"type": "rule", "color": "#000000", "opacity": 0.07, "strokeWidth": 1},
          "encoding": {"x": {"field": "end", "type": "temporal"}}
        },
        {
          "data": {"values": [{}]},
          "mark": {"type": "rule", "strokeDash": [3, 2.5], "color": "#2323c8", "strokeWidth": 1},
          "encoding": {"y": {"datum": 0, "type": "quantitative"}}
        },
        {
          "data": {"name": "main"},
          "mark": {"type": "line", "strokeWidth": 1},
          "encoding": {
            "x": {"field": "t", "type": "temporal"},
            "y": {"field": "c", "type": "quantitative",
                  "scale": {"domain": [-14.53, 8.28], "nice": false, "zero": false},
                  "axis": {"title": null, "values": [-10, -5, 0, 5], "labelFontSize": 13, "tickSize": 5, "labelPadding": 2, "grid": true}},
            "stroke": {"datum": "ResidualChange feature", "type": "nominal",
              "scale": {"domain": ["residuals output", "ResidualChange feature"], "range": ["#222222", "#2323c8"]}}
          }
        }
      ]
    }
  ]
}
